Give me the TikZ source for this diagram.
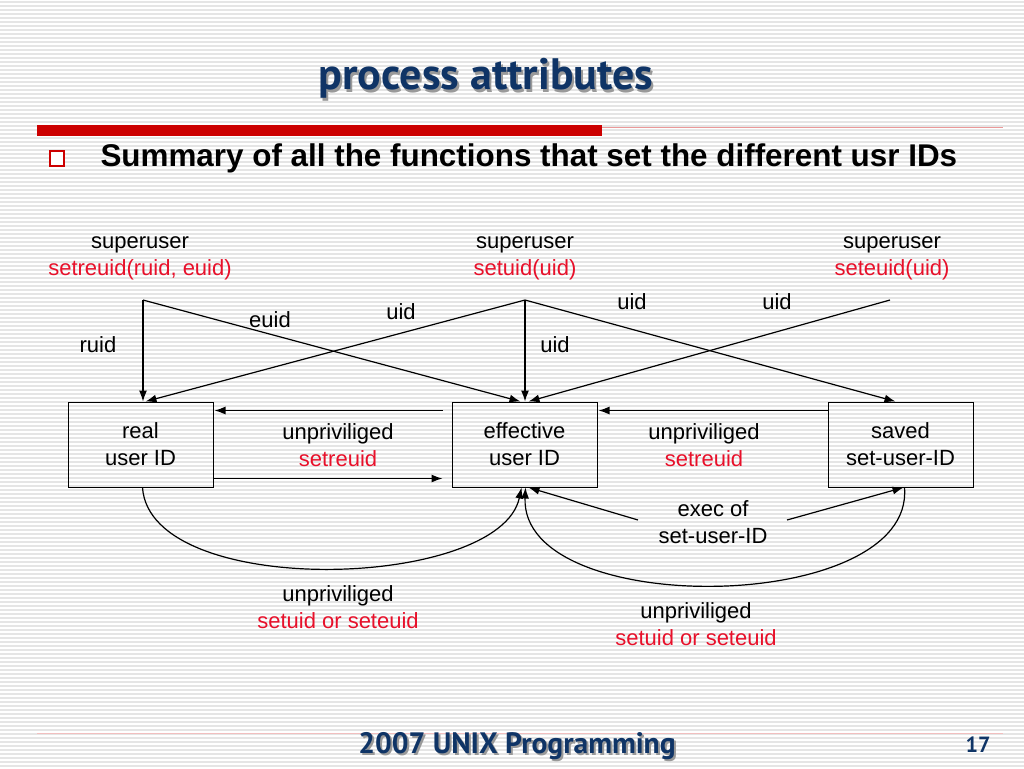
\documentclass[tikz,border=0pt]{standalone}
\usepackage{fontspec}
\setmainfont{Liberation Sans}
\newfontfamily\titlefont{PT Sans}
\usetikzlibrary{calc,arrows.meta}

\definecolor{navy}{HTML}{0F3466}
\definecolor{barred}{HTML}{CC0000}
\definecolor{fnred}{HTML}{E8102A}

\tikzset{
    stripe/.style={draw=black!10, line width=1.4pt},
    idbox/.style={rectangle, draw=black, line width=1pt, minimum width=145pt, minimum height=85pt, align=center, font=\fontsize{22}{27}\selectfont},
    lbl/.style={align=center, font=\fontsize{22}{27}\selectfont},
    conn/.style={line width=1.2pt, ->},
}

\begin{document}
\begin{tikzpicture}[x=1pt, y=-1pt, >={Latex[length=11pt,width=8pt]}]
            \useasboundingbox[fill=white] (0,0) rectangle (1024,768);
            % striped background
            \foreach \y in {2,6,...,766} \draw[stripe] (0,\y) -- (1024,\y);
            % title and rules
            \node[text=black!40, font=\titlefont\bfseries\fontsize{44}{48}\selectfont] at (488,81) {process attributes};
            \node (title) [text=navy, font=\titlefont\bfseries\fontsize{44}{48}\selectfont] at (486,78) {process attributes};
            \fill[barred] (37,125) rectangle (602,136);
            \draw[barred!40, line width=1pt] (602,127) -- (1003,127);
            \draw[barred, line width=1.6pt, fill=white] (50,151) rectangle (64,166);
            \node (summary) [anchor=west, font=\bfseries\fontsize{31.4}{34}\selectfont] at (97,158) {Summary of all the functions that set the different usr IDs};
            % the three ids
            \node (real) [idbox] at (140.5,444.5) {real\\user ID};
            \node (eff) [idbox] at (524.5,444.5) {effective\\user ID};
            \node (saved) [idbox] at (900.5,444.5) {saved\\set-user-ID};
            % superuser calls
            \node (suR) [lbl] at (140,258) {superuser\\\textcolor{fnred}{setreuid(ruid, euid)}};
            \node (suE) [lbl] at (525,258) {superuser\\\textcolor{fnred}{setuid(uid)}};
            \node (suS) [lbl] at (892,258) {superuser\\\textcolor{fnred}{seteuid(uid)}};
            \coordinate (srcR) at (143,300);
            \coordinate (srcE) at (525,300);
            \coordinate (srcS) at (890,300);
            \draw[conn] (srcR) -- (srcR |- real.north);
            \draw[conn] (srcR) -- ([xshift=-4pt]eff.north);
            \draw[conn] (srcE) -- ([xshift=5pt]real.north);
            \draw[conn] (srcE) -- (srcE |- eff.north);
            \draw[conn] (srcE) -- ([xshift=-5pt]saved.north);
            \draw[conn] (srcS) -- ([xshift=4pt]eff.north);
            \node (lRuid) [lbl] at (98,345) {ruid};
            \node (lEuid) [lbl] at (270,320) {euid};
            \node (lUid1) [lbl] at (401,312) {uid};
            \node (lUid2) [lbl] at (555,345) {uid};
            \node (lUid3) [lbl] at (632,302) {uid};
            \node (lUid4) [lbl] at (777,302) {uid};
            % unprivileged setreuid
            \draw[conn] ($(eff.north west)+(-9,9)$) -- ($(real.north east)+(1,9)$);
            \draw[conn] ($(real.south east)+(0,-9)$) -- ($(eff.south west)+(-9,-9)$);
            \draw[conn] ($(saved.north west)+(0,9)$) -- ($(eff.north east)+(1,9)$);
            \node (reuidL) [lbl] at (338,445) {unpriviliged\\\textcolor{fnred}{setreuid}};
            \node (reuidR) [lbl] at (704,445) {unpriviliged\\\textcolor{fnred}{setreuid}};
            % unprivileged setuid / seteuid
            \draw[conn] ([xshift=2pt]real.south) .. controls (150,600) and (500,590) .. ([xshift=-3pt]eff.south);
            \draw[conn] ([xshift=4pt]saved.south) .. controls (915,615) and (520,620) .. ([xshift=1pt]eff.south);
            \node (uidL) [lbl] at (338,607) {unpriviliged\\\textcolor{fnred}{setuid or seteuid}};
            \node (uidR) [lbl] at (696,624) {unpriviliged\\\textcolor{fnred}{setuid or seteuid}};
            % exec of a set-user-ID program
            \node (exec) [lbl] at (713,522) {exec of\\set-user-ID};
            \coordinate (execL) at (638,520);
            \coordinate (execR) at (787,520);
            \draw[conn] (execL) -- ([xshift=4pt]eff.south);
            \draw[conn] (execR) -- ([xshift=3pt]saved.south);
            % footer
            \draw[barred!25, line width=1pt] (37,733) -- (1003,733);
            \node[text=black!40, font=\titlefont\bfseries\fontsize{29.5}{32}\selectfont] at (519,748) {2007 UNIX Programming};
            \node (footer) [text=navy, font=\titlefont\bfseries\fontsize{29.5}{32}\selectfont] at (517,746) {2007 UNIX Programming};
            \node (page) [text=navy, font=\titlefont\bfseries\fontsize{22}{24}\selectfont] at (978,745) {17};
        \end{tikzpicture}
\end{document}
